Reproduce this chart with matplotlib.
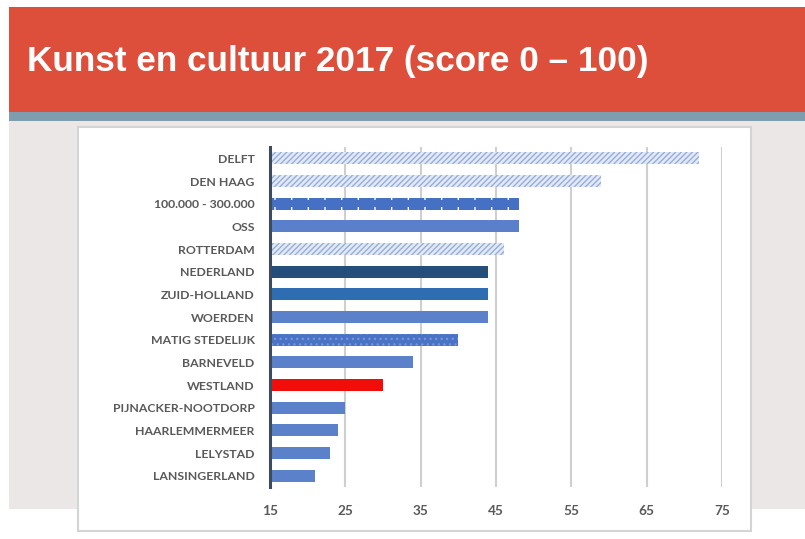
import matplotlib.pyplot as plt
from matplotlib.patches import Rectangle

# scores 2017, top row first
gemeenten = ['DELFT', 'DEN HAAG', '100.000 - 300.000', 'OSS', 'ROTTERDAM',
             'NEDERLAND', 'ZUID-HOLLAND', 'WOERDEN', 'MATIG STEDELIJK',
             'BARNEVELD', 'WESTLAND', 'PIJNACKER-NOOTDORP', 'HAARLEMMERMEER',
             'LELYSTAD', 'LANSINGERLAND']
scores = [72, 59, 48, 48, 46, 44, 44, 44, 40, 34, 30, 25, 24, 23, 21]
x_ticks = [15, 25, 35, 45, 55, 65, 75]

W, H = 805, 539
fig = plt.figure(figsize=(W / 100, H / 100), dpi=100)


def box(x0, y0, x1, y1, **kw):
    # pixel box (top-left origin) -> figure rectangle
    r = Rectangle((x0 / W, 1 - y1 / H), (x1 - x0) / W, (y1 - y0) / H,
                  transform=fig.transFigure, **kw)
    fig.patches.append(r)


box(9, 121, W, 509, facecolor='#ebe7e7', edgecolor='none', zorder=0)
box(9, 7, W, 112, facecolor='#dd4e3b', edgecolor='none', zorder=1)
box(9, 112, W, 121, facecolor='#7e9eb0', edgecolor='none', zorder=1)
box(78, 127, 751, 531, facecolor='white', edgecolor='#d4d4d4', lw=1.5, zorder=2)

fig.text(27 / W, 1 - 62 / H, 'Kunst en cultuur 2017 (score 0 \u2013 100)',
         color='white', fontsize=25.3, fontweight='bold',
         family='Liberation Sans', va='center', ha='left', zorder=3)

ax = fig.add_axes([270 / W, 1 - 487 / H, (722 - 270) / W, 340 / H], zorder=4)
ax.patch.set_alpha(0)

y = list(range(len(gemeenten)))
bh = 0.54

solid = {'NEDERLAND': '#264e7a', 'ZUID-HOLLAND': '#2f6db3',
         'WOERDEN': '#5b81ca', 'BARNEVELD': '#5b81ca', 'OSS': '#5a80cc',
         'WESTLAND': '#f20d0d', 'PIJNACKER-NOOTDORP': '#5b81ca',
         'HAARLEMMERMEER': '#5b81ca', 'LELYSTAD': '#5b81ca',
         'LANSINGERLAND': '#5b81ca'}

plt.rcParams['hatch.linewidth'] = 1.0
for i, (naam, s) in enumerate(zip(gemeenten, scores)):
    if naam in solid:
        ax.barh(i, s, height=bh, color=solid[naam], zorder=3)
    elif naam in ('DELFT', 'DEN HAAG', 'ROTTERDAM'):
        ax.barh(i, s, height=bh, facecolor='#e3e9f5', edgecolor='#95aedd',
                hatch='//////', linewidth=0, zorder=3)
    elif naam == 'MATIG STEDELIJK':
        ax.barh(i, s, height=bh, facecolor='#4a73c5', edgecolor='#7596d8',
                hatch='...', linewidth=0, zorder=3)
    else:
        # striped edges: white ticks along top and bottom
        ax.barh(i, s, height=bh, facecolor='#4570c4', edgecolor='#ffffff',
                hatch='|', linewidth=0, zorder=3)
        ax.barh(i, s, height=bh * 0.62, color='#4570c4', zorder=3.5)

ax.set_xlim(15, 75)
ax.set_ylim(len(gemeenten) - 0.5, -0.5)
ax.set_xticks(x_ticks)
ax.set_yticks(y)
ax.set_yticklabels(gemeenten)
ax.grid(axis='x', color='#cfcfcf', lw=1.5, zorder=1)
for sp in ['top', 'right', 'bottom']:
    ax.spines[sp].set_visible(False)
ax.spines['left'].set_color('#3e4b5e')
ax.spines['left'].set_linewidth(2.2)
ax.spines['left'].set_zorder(5)
ax.tick_params(length=0)
ax.tick_params(axis='y', pad=11)
ax.tick_params(axis='x', pad=13)
for lab in ax.get_yticklabels():
    lab.set_family('Lato')
    lab.set_fontweight('bold')
    lab.set_color('#595959')
    lab.set_fontsize(8.8)
for lab in ax.get_xticklabels():
    lab.set_family('Lato')
    lab.set_fontweight('bold')
    lab.set_color('#595959')
    lab.set_fontsize(9.8)

fig.savefig('out.png', dpi=100)
